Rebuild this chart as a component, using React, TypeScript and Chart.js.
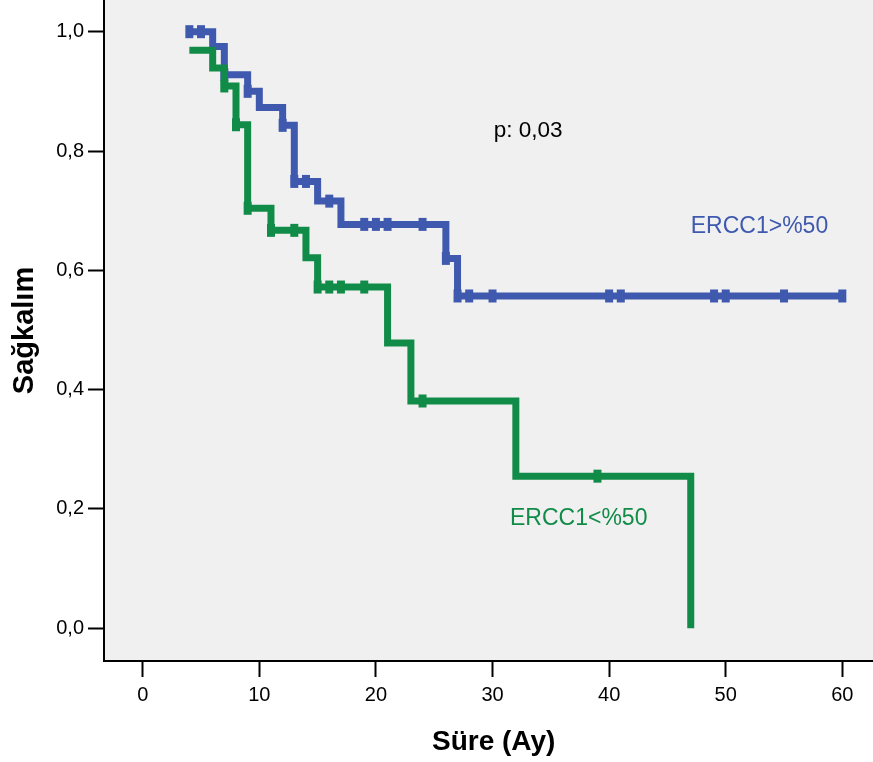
import React, { useEffect, useRef } from 'react';
import { Chart, registerables } from 'chart.js';

Chart.register(...registerables);

// ERCC1>%50 (blue): event steps
const highTimes = [4, 6, 7, 9, 10, 12, 13, 15, 17, 26, 27, 60];
const highSurv = [1.0, 0.975, 0.928, 0.9, 0.873, 0.843, 0.749, 0.716, 0.677, 0.62, 0.557, 0.557];
// ERCC1>%50 censored observations
const highCensorTimes = [4, 5, 7, 9, 12, 13, 14, 16, 19, 20, 21, 24, 26, 27, 28, 30, 40, 41, 49, 50, 55, 60];
const highCensorSurv = [1.0, 1.0, 0.928, 0.9, 0.843, 0.749, 0.749, 0.716, 0.677, 0.677, 0.677, 0.677, 0.62, 0.557, 0.557, 0.557, 0.557, 0.557, 0.557, 0.557, 0.557, 0.557];

// ERCC1<%50 (green): event steps
const lowTimes = [4, 6, 7, 8, 9, 11, 14, 15, 21, 23, 32, 47];
const lowSurv = [0.969, 0.939, 0.909, 0.844, 0.704, 0.667, 0.621, 0.572, 0.478, 0.381, 0.255, 0.0];
// ERCC1<%50 censored observations
const lowCensorTimes = [7, 8, 9, 11, 13, 15, 16, 17, 19, 24, 39];
const lowCensorSurv = [0.909, 0.844, 0.704, 0.667, 0.667, 0.572, 0.572, 0.572, 0.572, 0.381, 0.255];

const xTicks = [0, 10, 20, 30, 40, 50, 60];
const yTicks = [0, 0.2, 0.4, 0.6, 0.8, 1.0];

const X_TITLE = 'Süre (Ay)';
const Y_TITLE = 'Sağkalım';
const P_TEXT = 'p: 0,03';
const HIGH_LABEL = 'ERCC1>%50';
const LOW_LABEL = 'ERCC1<%50';

const BLUE = '#3E59AE';
const GREEN = '#108C48';
const FONT = '"Liberation Sans", Arial, sans-serif';

const zip = (xs: number[], ys: number[]) => xs.map((x, i) => ({ x, y: ys[i] }));

const decorPlugin = {
  id: 'decor',
  beforeDraw(chart: any) {
    const { ctx, chartArea: a } = chart;
    ctx.save();
    ctx.fillStyle = '#ffffff';
    ctx.fillRect(0, 0, chart.width, chart.height);
    ctx.fillStyle = '#F0F0F0';
    ctx.fillRect(a.left, a.top, a.right - a.left, a.bottom - a.top);
    ctx.restore();
  },
  afterDraw(chart: any) {
    const { ctx, chartArea: a } = chart;
    const xs = chart.scales.x;
    const ys = chart.scales.y;
    const notes = [
      { text: P_TEXT, x: 30.1, y: 0.8235, color: '#000000', size: 22.5 },
      { text: HIGH_LABEL, x: 47.0, y: 0.662, color: BLUE, size: 23 },
      { text: LOW_LABEL, x: 31.5, y: 0.173, color: GREEN, size: 23 },
    ];
    ctx.save();
    ctx.textBaseline = 'alphabetic';
    ctx.textAlign = 'left';
    for (const n of notes) {
      ctx.font = `${n.size}px ${FONT}`;
      ctx.fillStyle = n.color;
      ctx.fillText(n.text, xs.getPixelForValue(n.x), ys.getPixelForValue(n.y));
    }
    ctx.fillStyle = '#000000';
    ctx.font = `bold 28px ${FONT}`;
    ctx.textAlign = 'center';
    ctx.fillText(X_TITLE, xs.getPixelForValue(30.1), a.bottom + 89);
    ctx.translate(32.7, (a.top + a.bottom) / 2);
    ctx.rotate(-Math.PI / 2);
    ctx.font = `bold 29px ${FONT}`;
    ctx.fillText(Y_TITLE, 0, 0);
    ctx.restore();
  },
};

export default function App() {
  const ref = useRef<HTMLCanvasElement | null>(null);

  useEffect(() => {
    if (!ref.current) return;
    const lineCommon = {
      pointRadius: 0,
      pointHoverRadius: 0,
      borderWidth: 7,
      stepped: true,
      fill: false,
      tension: 0,
      borderJoinStyle: 'miter',
      borderCapStyle: 'butt',
    };
    const censorCommon = {
      showLine: false,
      pointStyle: 'line',
      rotation: 90,
      pointRadius: 6.5,
      pointHoverRadius: 6.5,
      pointBorderWidth: 8,
      pointHoverBorderWidth: 8,
    };
    const chart = new Chart(ref.current, {
      type: 'line',
      data: {
        datasets: [
          {
            ...censorCommon,
            label: 'lowCensor',
            data: zip(lowCensorTimes, lowCensorSurv),
            borderColor: GREEN,
            backgroundColor: GREEN,
            pointBorderColor: GREEN,
            order: 0,
          } as any,
          {
            ...lineCommon,
            label: LOW_LABEL,
            data: zip(lowTimes, lowSurv),
            borderColor: GREEN,
            backgroundColor: GREEN,
            order: 1,
          } as any,
          {
            ...censorCommon,
            label: 'highCensor',
            data: zip(highCensorTimes, highCensorSurv),
            borderColor: BLUE,
            backgroundColor: BLUE,
            pointBorderColor: BLUE,
            order: 2,
          } as any,
          {
            ...lineCommon,
            label: HIGH_LABEL,
            data: zip(highTimes, highSurv),
            borderColor: BLUE,
            backgroundColor: BLUE,
            order: 3,
          } as any,
        ],
      },
      options: {
        animation: false,
        responsive: false,
        maintainAspectRatio: false,
        events: [],
        layout: { padding: 0, autoPadding: false },
        plugins: {
          legend: { display: false },
          tooltip: { enabled: false },
          title: { display: false },
        },
        scales: {
          x: {
            type: 'linear',
            min: -3.32,
            max: 62.63,
            afterBuildTicks: (s: any) => {
              s.ticks = xTicks.map((v) => ({ value: v }));
            },
            afterFit: (s: any) => {
              s.height = 101;
              s.paddingLeft = 0;
              s.paddingRight = 0;
            },
            grid: {
              display: true,
              drawOnChartArea: false,
              drawTicks: true,
              tickLength: 16,
              tickColor: '#000000',
              tickWidth: 2,
            },
            border: { display: true, color: '#000000', width: 2 },
            ticks: {
              color: '#000000',
              font: { family: FONT, size: 20 },
              padding: 6,
              maxRotation: 0,
              autoSkip: false,
              callback: (v: any) => String(v),
            },
          },
          y: {
            type: 'linear',
            min: -0.0548,
            max: 1.0531,
            afterBuildTicks: (s: any) => {
              s.ticks = yTicks.map((v) => ({ value: v }));
            },
            afterFit: (s: any) => {
              s.width = 104;
              s.paddingTop = 0;
              s.paddingBottom = 0;
            },
            grid: {
              display: true,
              drawOnChartArea: false,
              drawTicks: true,
              tickLength: 16,
              tickColor: '#000000',
              tickWidth: 2,
            },
            border: { display: true, color: '#000000', width: 2 },
            ticks: {
              color: '#000000',
              font: { family: FONT, size: 20 },
              padding: 4,
              autoSkip: false,
              callback: (v: any) => Number(v).toFixed(1).replace('.', ','),
            },
          },
        },
      } as any,
      plugins: [decorPlugin],
    });
    return () => chart.destroy();
  }, []);

  return (
    <div style={{ position: 'absolute', left: 0, top: 0, width: 873, height: 762 }}>
      <canvas ref={ref} width={873} height={762} style={{ display: 'block' }} />
    </div>
  );
}
